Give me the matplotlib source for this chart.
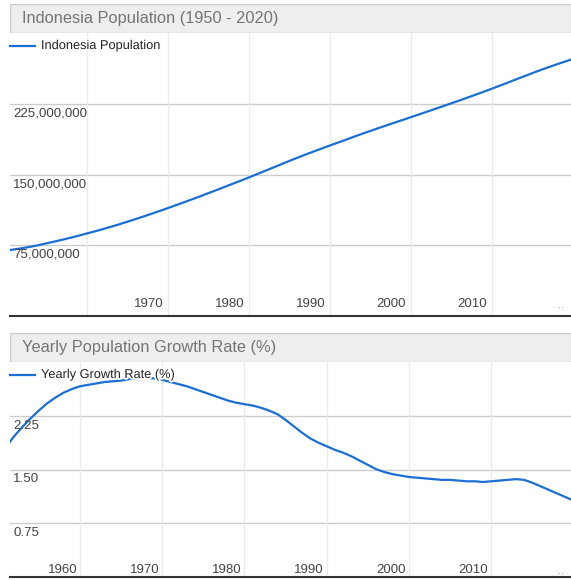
import matplotlib
matplotlib.use("Agg")
import matplotlib.pyplot as plt
from matplotlib.patches import Rectangle
import matplotlib.patheffects as pe

plt.rcParams['font.family'] = ['Liberation Sans', 'DejaVu Sans']

# ---------------- data ----------------
pop_years = list(range(1950, 2021))
pop_millions = [
    69.5, 70.8, 72.1, 73.6, 75.3, 77.3, 79.2, 81.2, 83.3, 85.5,
    87.8, 90.1, 92.5, 95.0, 97.6, 100.3, 103.1, 105.9, 108.8, 111.8,
    114.8, 117.9, 121.0, 124.2, 127.4, 130.7, 134.0, 137.3, 140.7, 144.0,
    147.4, 150.9, 154.4, 157.9, 161.5, 165.0, 168.4, 171.8, 175.0, 178.2,
    181.4, 184.5, 187.6, 190.8, 193.9, 196.9, 199.9, 202.8, 205.7, 208.6,
    211.5, 214.4, 217.4, 220.3, 223.3, 226.3, 229.3, 232.4, 235.5, 238.6,
    241.8, 245.1, 248.4, 251.8, 255.1, 258.4, 261.6, 264.7, 267.7, 270.6,
    273.5,
]
growth_years = list(range(1951, 2021))
growth_rate = [
    1.82, 1.97, 2.10, 2.22, 2.33, 2.43, 2.51, 2.58, 2.63,
    2.67, 2.69, 2.71, 2.73, 2.74, 2.75, 2.77, 2.78, 2.79, 2.78,
    2.76, 2.73, 2.70, 2.67, 2.63, 2.59, 2.55, 2.51, 2.47, 2.44,
    2.42, 2.40, 2.37, 2.33, 2.28, 2.20, 2.11, 2.02, 1.94, 1.88,
    1.83, 1.78, 1.74, 1.69, 1.63, 1.57, 1.51, 1.47, 1.44, 1.42,
    1.40, 1.39, 1.38, 1.37, 1.36, 1.36, 1.35, 1.34, 1.34, 1.33,
    1.34, 1.35, 1.36, 1.37, 1.36, 1.32, 1.27, 1.22, 1.17, 1.12,
    1.07,
]

top_title = "Indonesia Population (1950 - 2020)"
top_legend = "Indonesia Population"
top_yticks = [75e6, 150e6, 225e6]
top_ylabels = ["75,000,000", "150,000,000", "225,000,000"]
top_xticks = [1960, 1970, 1980, 1990, 2000, 2010]
top_xlabels = ["", "1970", "1980", "1990", "2000", "2010"]

bot_title = "Yearly Population Growth Rate (%)"
bot_legend = "Yearly Growth Rate (%)"
bot_yticks = [0.75, 1.50, 2.25]
bot_ylabels = ["0.75", "1.50", "2.25"]
bot_xticks = [1960, 1970, 1980, 1990, 2000, 2010]
bot_xlabels = ["1960", "1970", "1980", "1990", "2000", "2010"]

LINE = '#1a6fd6'
W, H = 571, 580
fig = plt.figure(figsize=(W / 100, H / 100), dpi=100)


def fx(px):
    return px / W


def fy(py):
    return 1 - py / H


def title_box(y0, y1, text):
    ax = fig.add_axes([fx(10), fy(y1), fx(561), (y1 - y0) / H])
    ax.set_xlim(0, 1)
    ax.set_ylim(0, 1)
    ax.axis('off')
    ax.add_patch(Rectangle((0, 0), 1, 1, transform=ax.transAxes,
                           facecolor='#eeeeee', edgecolor='#cccccc', lw=1.0))
    ax.text(12 / 561, 0.5, text, transform=ax.transAxes, ha='left', va='center',
            fontsize=11.8, color='#757575')


def panel(y0, y1, xlim, ylim, x, y, yticks, ylabels, xticks, xlabels, legend,
          xlab_dx, xlab_dy):
    ax = fig.add_axes([fx(10), fy(y1), fx(561), (y1 - y0) / H])
    ax.set_xlim(*xlim)
    ax.set_ylim(*ylim)
    for s in ['top', 'left', 'right']:
        ax.spines[s].set_visible(False)
    ax.spines['bottom'].set_color('#333333')
    ax.spines['bottom'].set_linewidth(1.5)
    ax.set_xticks([])
    ax.set_yticks([])
    for yt in yticks:
        ax.axhline(yt, color='#cccccc', lw=1.0, zorder=1)
    for xt in xticks:
        ax.axvline(xt, color='#ebebeb', lw=1.0, zorder=1)
    ax.plot(x, y, color=LINE, lw=1.6, zorder=3, solid_capstyle='round')
    trans = ax.get_yaxis_transform()
    for yt, lab in zip(yticks, ylabels):
        ax.annotate(lab, xy=(0, yt), xycoords=trans, xytext=(2.2, -2.5),
                    textcoords='offset points', ha='left', va='top',
                    fontsize=9.6, color='#444444', zorder=4)
    xtrans = ax.get_xaxis_transform()
    for xt, lab in zip(xticks, xlabels):
        if lab:
            ax.annotate(lab, xy=(xt, 0), xycoords=xtrans, xytext=(xlab_dx, xlab_dy),
                        textcoords='offset points', ha='right', va='bottom',
                        fontsize=9.5, color='#444444', zorder=4)
    ax.annotate("..", xy=(1, 0), xycoords='axes fraction', xytext=(-5, xlab_dy),
                textcoords='offset points', ha='right', va='bottom',
                fontsize=8, color='#999999')
    # legend
    ly = 1 - 13 / (y1 - y0)
    ax.plot([0.0, 25 / 561], [ly, ly], transform=ax.transAxes,
            color=LINE, lw=1.6, zorder=5, clip_on=False)
    ax.text(31 / 561, ly, legend, transform=ax.transAxes,
            ha='left', va='center', fontsize=9.2, color='#222222', zorder=6,
            path_effects=[pe.withStroke(linewidth=2.5, foreground='white')])
    return ax


title_box(4, 33, top_title)
panel(33, 316, (1950.5, 2019.75), (0, 301e6), pop_years,
      [v * 1e6 for v in pop_millions], top_yticks, top_ylabels,
      top_xticks, top_xlabels, top_legend, -3.5, 4)

title_box(333, 362, bot_title)
panel(362, 577, (1951.5, 2019.7), (0, 3.01), growth_years, growth_rate,
      bot_yticks, bot_ylabels, bot_xticks, bot_xlabels, bot_legend, -2.0, 0.5)

fig.savefig("out.png", dpi=100, facecolor='white')
